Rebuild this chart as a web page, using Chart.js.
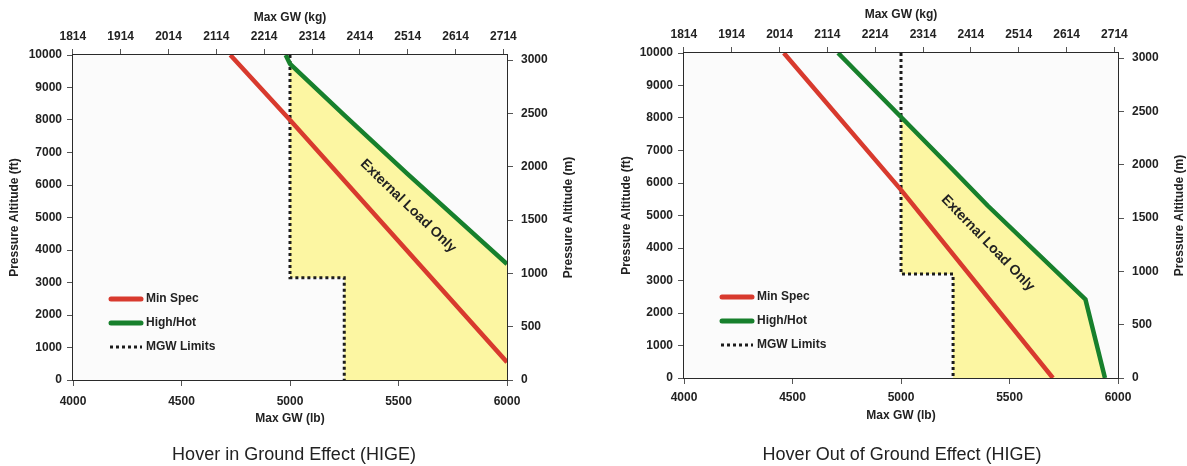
<!DOCTYPE html>
<html>
<head>
<meta charset="utf-8">
<script src="https://cdn.jsdelivr.net/npm/chart.js@4.4.0/dist/chart.umd.min.js"></script>
<style>
  html, body { margin: 0; padding: 0; background: #fff; }
  #wrap { position: relative; width: 1187px; height: 466px; }
  .box { position: absolute; top: 0; height: 466px; }
  #left { left: 0; width: 590px; }
  #right { left: 590px; width: 597px; }
</style>
</head>
<body>
<div id="wrap">
  <div class="box" id="left"><canvas id="higeChart"></canvas></div>
  <div class="box" id="right"><canvas id="hogeChart"></canvas></div>
</div>
<script>
// tick labels for the secondary axes
const kgTicks = [1814, 1914, 2014, 2114, 2214, 2314, 2414, 2514, 2614, 2714];
const mTicks = [0, 500, 1000, 1500, 2000, 2500, 3000];

// series names
const seriesNames = ['Min Spec', 'High/Hot', 'MGW Limits'];
const chartTitles = ['Hover in Ground Effect (HIGE)', 'Hover Out of Ground Effect (HIGE)'];
const regionLabel = 'External Load Only';

// HIGE (left) - weight in lb, altitude in ft
const higeMinSpecLb = [4725, 5000, 6000];
const higeMinSpecFt = [10000, 8000, 550];
const higeHighHotLb = [4980, 5000, 5250, 5540, 6000];
const higeHighHotFt = [10000, 9730, 8150, 6350, 3570];
const higeMgwLb = [5000, 5000, 5250, 5250];
const higeMgwFt = [10000, 3150, 3150, 0];

// HOGE (right)
const hogeMinSpecLb = [4460, 5000, 5700];
const hogeMinSpecFt = [10000, 5790, 0];
const hogeHighHotLb = [4710, 5000, 5240, 5400, 5850, 5940];
const hogeHighHotFt = [10000, 8030, 6400, 5300, 2420, 0];
const hogeMgwLb = [5000, 5000, 5240, 5240];
const hogeMgwFt = [10000, 3200, 3200, 0];

const FONT = "'Liberation Sans', Arial, sans-serif";
Chart.defaults.font.family = FONT;
Chart.defaults.color = '#222';

const RED = '#d83a2e';
const GREEN = '#17802c';
const YELLOW = '#fcf6a2';
const INK = '#1c1c1c';
const bold12 = { size: 12, weight: 'bold' };

function pts(xs, ys) {
  return xs.map((x, i) => ({ x: x, y: ys[i] }));
}

// plot background, right axis title, region text and the legend inside the plot
const extras = {
  id: 'extras',
  beforeDatasetsDraw(chart) {
    const { ctx, chartArea: a } = chart;
    ctx.save();
    ctx.fillStyle = '#fbfbfb';
    ctx.fillRect(a.left, a.top, a.right - a.left, a.bottom - a.top);
    ctx.restore();
  },
  afterDatasetsDraw(chart, args, opts) {
    const { ctx, chartArea: a, scales } = chart;

    ctx.save();
    ctx.font = 'bold 12px ' + FONT;
    ctx.fillStyle = '#222';
    ctx.textAlign = 'center';
    ctx.textBaseline = 'middle';
    ctx.translate(a.right + 62, (a.top + a.bottom) / 2);
    ctx.rotate(-Math.PI / 2);
    ctx.fillText('Pressure Altitude (m)', 0, 0);
    ctx.restore();

    ctx.save();
    ctx.font = 'bold 14px ' + FONT;
    ctx.fillStyle = '#222';
    ctx.textAlign = 'center';
    ctx.textBaseline = 'middle';
    ctx.translate(scales.x.getPixelForValue(opts.labelAt[0]), scales.y.getPixelForValue(opts.labelAt[1]));
    ctx.rotate(opts.labelAngle * Math.PI / 180);
    ctx.fillText(regionLabel, 0, 0);
    ctx.restore();

    const rows = [81, 57, 33];
    chart.data.datasets.filter(d => d.label).forEach((d, k) => {
      const y = a.bottom - rows[k];
      ctx.save();
      ctx.strokeStyle = d.borderColor;
      if (d.borderDash) {
        ctx.lineWidth = 3;
        ctx.setLineDash([3, 3]);
        ctx.beginPath();
        ctx.moveTo(a.left + 37, y);
        ctx.lineTo(a.left + 69, y);
        ctx.stroke();
      } else {
        ctx.lineWidth = 5;
        ctx.lineCap = 'round';
        ctx.beginPath();
        ctx.moveTo(a.left + 38, y);
        ctx.lineTo(a.left + 68, y);
        ctx.stroke();
      }
      ctx.font = 'bold 12px ' + FONT;
      ctx.fillStyle = '#222';
      ctx.textAlign = 'left';
      ctx.textBaseline = 'middle';
      ctx.fillText(d.label, a.left + 73, y);
      ctx.restore();
    });
  }
};

function axisBase() {
  return {
    type: 'linear',
    grid: { drawOnChartArea: false, drawTicks: true, tickLength: 6, color: '#555', lineWidth: 1 },
    border: { display: true, color: '#2a2a2a', width: 2 },
  };
}

function makeChart(id, d, cfg) {
  const highHot = pts(d.highLb, d.highFt);
  const mgw = pts(d.mgwLb, d.mgwFt);
  // yellow zone: under High/Hot, right of the MGW limits (two overlapping fills)
  const zoneUpper = highHot.filter(p => p.x >= d.mgwLb[1] && p.y >= d.mgwFt[1]);
  const zoneLower = highHot.filter(p => p.x >= d.mgwLb[2]);

  return new Chart(document.getElementById(id), {
    type: 'scatter',
    data: {
      datasets: [
        { label: seriesNames[0], data: pts(d.minLb, d.minFt), showLine: true, borderColor: RED, borderWidth: 4.5, pointRadius: 0, order: 0 },
        { label: seriesNames[1], data: highHot, showLine: true, borderColor: GREEN, borderWidth: 4.5, pointRadius: 0, order: 1 },
        { label: seriesNames[2], data: mgw, showLine: true, borderColor: INK, borderWidth: 3, borderDash: [3, 3], pointRadius: 0, order: 2 },
        { data: zoneUpper, showLine: true, borderWidth: 0, borderColor: 'rgba(0,0,0,0)', backgroundColor: YELLOW, pointRadius: 0, fill: { value: d.mgwFt[1] }, order: 3 },
        { data: zoneLower, showLine: true, borderWidth: 0, borderColor: 'rgba(0,0,0,0)', backgroundColor: YELLOW, pointRadius: 0, fill: { value: d.mgwFt[3] }, order: 3 }
      ]
    },
    options: {
      responsive: true,
      maintainAspectRatio: false,
      animation: false,
      events: [],
      layout: { padding: cfg.pad },
      plugins: {
        legend: { display: false },
        tooltip: { enabled: false },
        title: {
          display: true,
          position: 'bottom',
          text: d.title,
          color: '#222',
          font: { size: 18, weight: 'normal' },
          padding: { top: 12, bottom: 0 }
        },
        extras: { labelAt: d.labelAt, labelAngle: d.labelAngle }
      },
      scales: {
        x: Object.assign(axisBase(), {
          position: 'bottom', min: 4000, max: 6000,
          ticks: { stepSize: 500, padding: cfg.xTickPad, font: bold12, color: '#222', callback: v => String(v) },
          title: { display: true, text: 'Max GW (lb)', font: bold12, color: '#222', padding: { top: 0, bottom: cfg.xTitlePad } },
          afterFit: s => { s.height = cfg.xHeight; }
        }),
        x2: Object.assign(axisBase(), {
          position: 'top', min: 4000 * 0.45359, max: 6000 * 0.45359,
          afterBuildTicks: s => { s.ticks = kgTicks.map(v => ({ value: v })); },
          ticks: { padding: 5, font: bold12, color: '#222', callback: v => String(v) },
          title: { display: true, text: 'Max GW (kg)', font: bold12, color: '#222', padding: { top: cfg.x2TitlePad, bottom: 0 } },
          afterFit: s => { s.height = cfg.x2Height; }
        }),
        y: Object.assign(axisBase(), {
          position: 'left', min: 0, max: 10000,
          ticks: { stepSize: 1000, padding: 5, font: bold12, color: '#222', callback: v => String(v) },
          title: { display: true, text: 'Pressure Altitude (ft)', font: bold12, color: '#222', padding: { top: cfg.yTitlePad, bottom: 0 } },
          afterFit: s => { s.width = cfg.yWidth; }
        }),
        y2: Object.assign(axisBase(), {
          position: 'right', min: 0, max: 10000 * 0.3048,
          afterBuildTicks: s => { s.ticks = mTicks.map(v => ({ value: v })); },
          ticks: { padding: 8, font: bold12, color: '#222', callback: v => String(v) },
          afterFit: s => { s.width = cfg.y2Width; }
        })
      }
    },
    plugins: [extras]
  });
}

makeChart('higeChart', {
  minLb: higeMinSpecLb, minFt: higeMinSpecFt,
  highLb: higeHighHotLb, highFt: higeHighHotFt,
  mgwLb: higeMgwLb, mgwFt: higeMgwFt,
  title: chartTitles[0], labelAt: [5545, 5350], labelAngle: 44
}, {
  pad: { left: 0, right: 2, top: 0, bottom: 0 },
  xHeight: 52.4, xTitlePad: 6.2, xTickPad: 8,
  x2Height: 55, x2TitlePad: 10,
  yWidth: 73, yTitlePad: 7.8, y2Width: 81
});

makeChart('hogeChart', {
  minLb: hogeMinSpecLb, minFt: hogeMinSpecFt,
  highLb: hogeHighHotLb, highFt: hogeHighHotFt,
  mgwLb: hogeMgwLb, mgwFt: hogeMgwFt,
  title: chartTitles[1], labelAt: [5400, 4150], labelAngle: 46
}, {
  pad: { left: 27, right: 0, top: 0, bottom: 0 },
  xHeight: 54.4, xTitlePad: 9.2, xTickPad: 6.3,
  x2Height: 53, x2TitlePad: 7.3,
  yWidth: 67, yTitlePad: 2.8, y2Width: 69
});
</script>
</body>
</html>
